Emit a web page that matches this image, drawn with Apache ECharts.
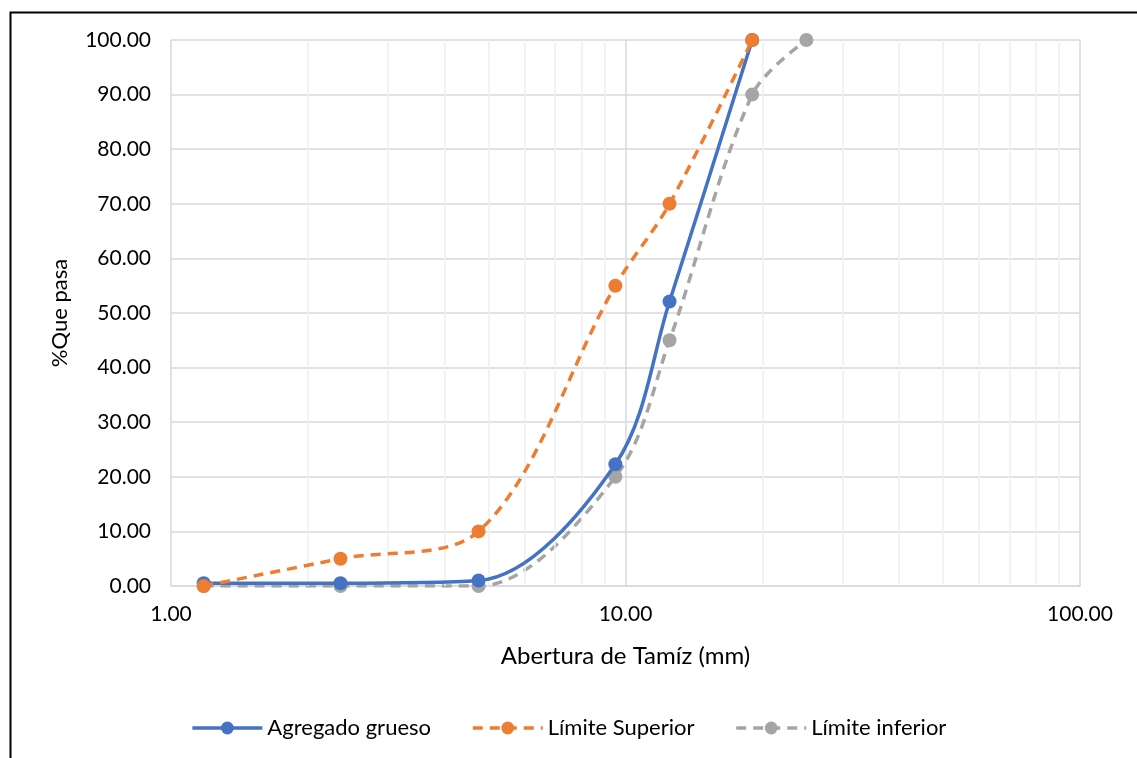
<!DOCTYPE html>
<html>
<head>
<meta charset="utf-8">
<script src="https://cdn.jsdelivr.net/npm/echarts@6/dist/echarts.min.js"></script>
<style>
html,body{margin:0;padding:0;background:#fff;}
#c{width:1137px;height:758px;}
</style>
</head>
<body>
<div id="c"></div>
<script>
const sieves = [1.18, 2.36, 4.75, 9.5, 12.5, 19, 25];
const agregadoGrueso = [0.5, 0.5, 1.0, 22.3, 52.1, 100];
const limiteSuperior = [0, 5, 10, 55, 70, 100];
const limiteInferior = [0, 0, 0, 20, 45, 90, 100];
const minorGrid = [2,3,4,5,6,7,8,9,20,30,40,50,60,70,80,90];
const seriesNames = ['Agregado grueso', 'Límite Superior', 'Límite inferior'];
const xTitle = 'Abertura de Tamíz (mm)';
const yTitle = '%Que pasa';

const FONT = 'Lato';
const SMOOTH = 0.33;
const pairs = (vals) => vals.map((v, i) => [sieves[i], v]);

const chart = echarts.init(document.getElementById('c'), null, {renderer: 'canvas'});
chart.setOption({
  animation: false,
  backgroundColor: '#fff',
  textStyle: {fontFamily: FONT},
  graphic: [{
    type: 'rect', left: 8, top: 10, z: 100,
    shape: {width: 1300, height: 900},
    style: {fill: 'none', stroke: '#000', lineWidth: 2}
  }],
  grid: {left: 171, right: 57, top: 40, bottom: 172},
  xAxis: {
    type: 'log', logBase: 10, min: 1, max: 100,
    name: xTitle, nameLocation: 'middle', nameGap: 58,
    nameTextStyle: {fontSize: 24, color: '#000', fontFamily: FONT},
    axisLine: {show: true, lineStyle: {color: '#d9d9d9', width: 1.5}},
    axisTick: {show: false},
    axisLabel: {fontSize: 21, color: '#000', margin: 18, fontFamily: FONT,
      formatter: v => Number(v).toFixed(2)},
    splitLine: {show: true, lineStyle: {color: '#d9d9d9', width: 1.5}}
  },
  yAxis: {
    type: 'value', min: 0, max: 100, interval: 10,
    name: yTitle, nameLocation: 'middle', nameGap: 100,
    nameTextStyle: {fontSize: 22, color: '#000', fontFamily: FONT},
    axisLine: {show: false}, axisTick: {show: false},
    axisLabel: {fontSize: 21, color: '#000', margin: 20, fontFamily: FONT,
      formatter: v => Number(v).toFixed(2)},
    splitLine: {show: true, lineStyle: {color: '#d9d9d9', width: 1.5}}
  },
  legend: {
    data: seriesNames,
    bottom: 14, left: 'center',
    itemWidth: 70, itemHeight: 16, itemGap: 40,
    lineStyle: {width: 3.5},
    textStyle: {fontSize: 22, color: '#000', fontFamily: FONT}
  },
  series: [
    {
      name: 'minor', type: 'line', data: [], silent: true, z: 1,
      markLine: {
        silent: true, symbol: ['none', 'none'], label: {show: false},
        lineStyle: {color: '#efefef', type: 'solid', width: 1.5},
        data: minorGrid.map(v => ({xAxis: v}))
      }
    },
    {
      name: seriesNames[0], type: 'line', smooth: SMOOTH, z: 5,
      data: pairs(agregadoGrueso),
      symbol: 'circle', symbolSize: 14,
      itemStyle: {color: '#4472C4'},
      lineStyle: {color: '#4472C4', width: 3.5}
    },
    {
      name: seriesNames[1], type: 'line', smooth: SMOOTH, z: 6,
      data: pairs(limiteSuperior),
      symbol: 'circle', symbolSize: 14,
      itemStyle: {color: '#ED7D31'},
      lineStyle: {color: '#ED7D31', width: 3.5, type: [10, 7]}
    },
    {
      name: seriesNames[2], type: 'line', smooth: SMOOTH, z: 4,
      data: pairs(limiteInferior),
      symbol: 'circle', symbolSize: 14,
      itemStyle: {color: '#A5A5A5'},
      lineStyle: {color: '#A5A5A5', width: 3.5, type: [10, 7]}
    }
  ]
});
</script>
</body>
</html>
